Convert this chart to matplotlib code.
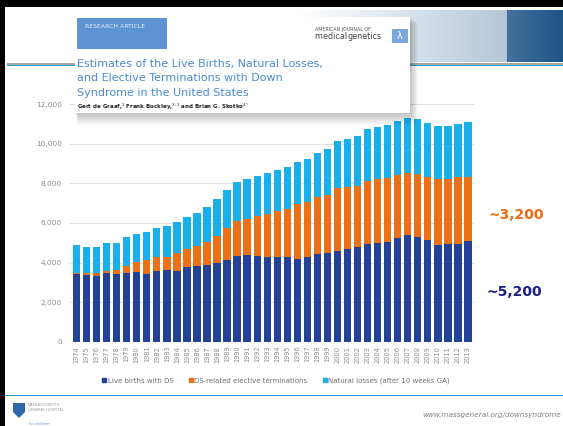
import numpy as np
import matplotlib
matplotlib.use("Agg")
import matplotlib.pyplot as plt
from matplotlib.patches import Rectangle, Polygon
from matplotlib.lines import Line2D
from matplotlib.colors import LinearSegmentedColormap

# Down syndrome pregnancies by outcome, US, 1974-2013
years = [str(y) for y in range(1974, 2014)]
live_births = [3400, 3350, 3300, 3450, 3400, 3450, 3500, 3400, 3550, 3620,
               3570, 3790, 3840, 3870, 3990, 4130, 4340, 4380, 4350, 4300,
               4300, 4300, 4180, 4300, 4410, 4460, 4580, 4680, 4800, 4920,
               4970, 5030, 5250, 5390, 5300, 5140, 4880, 4930, 4930, 5100]
terminations = [60, 100, 150, 120, 220, 390, 510, 730, 710, 670,
                890, 890, 1000, 1180, 1360, 1630, 1750, 1820, 2000, 2150,
                2320, 2400, 2760, 2770, 2880, 2950, 3170, 3120, 3060, 3210,
                3250, 3250, 3170, 3110, 3150, 3160, 3340, 3270, 3370, 3230]
natural_losses = [1440, 1350, 1350, 1400, 1350, 1430, 1410, 1400, 1500, 1550,
                  1570, 1630, 1660, 1770, 1840, 1900, 1990, 2020, 2035, 2055,
                  2055, 2105, 2120, 2160, 2250, 2310, 2390, 2440, 2540, 2595,
                  2640, 2660, 2740, 2780, 2780, 2760, 2690, 2710, 2690, 2750]
series_labels = ["Live births with DS", "DS-related elective terminations",
                 "Natural losses (after 10 weeks GA)"]
y_ticks = [0, 2000, 4000, 6000, 8000, 10000, 12000]
callouts = ["~3,200", "~5,200"]

NAVY = "#234196"
ORANGE = "#ec7016"
SKY = "#19afeb"
GRID = "#dcdcdc"
TICK = "#8c8c8c"

W, H = 563, 426
fig = plt.figure(figsize=(W / 100, H / 100), dpi=100)
fig.patch.set_facecolor("white")

# slide background, drawn in pixel coordinates
bg = fig.add_axes([0, 0, 1, 1], zorder=0)
bg.set_xlim(0, W)
bg.set_ylim(H, 0)
bg.axis("off")

bg.add_patch(Rectangle((0, 0), W, 7, color="black", lw=0))
bg.add_patch(Rectangle((0, 0), 5, H, color="black", lw=0))

light = LinearSegmentedColormap.from_list("light", ["#ffffff", "#b4c7d8"])
dark = LinearSegmentedColormap.from_list("dark", ["#43719c", "#1d5486"])
ramp = np.linspace(0, 1, 256).reshape(1, -1)
bg.imshow(ramp, cmap=light, extent=(300, 507, 62, 10), aspect="auto", zorder=1)
bg.imshow(ramp, cmap=dark, extent=(507, W, 62, 10), aspect="auto", zorder=1)
bg.set_xlim(0, W)
bg.set_ylim(H, 0)

bg.add_patch(Rectangle((7, 62.5), W - 7, 2, color="#a6a6a6", lw=0, zorder=2))
bg.add_patch(Rectangle((7, 64.8), W - 7, 1.6, color="#1a9fd0", lw=0, zorder=2))
bg.add_patch(Rectangle((5, 394.5), W - 5, 1.6, color="#1a9fd0", lw=0, zorder=2))

bg.text(488, 215, callouts[0], color="#f26a10", fontsize=10, fontweight="bold",
        ha="left", va="center")
bg.text(487, 292, callouts[1], color="#1b1f8a", fontsize=10, fontweight="bold",
        ha="left", va="center")

bg.text(561, 415, "www.massgeneral.org/downsyndrome", color="#808080",
        fontsize=5.2, style="italic", ha="right", va="center")

# hospital logo
bg.add_patch(Polygon([(13, 403), (25, 403), (25, 412), (19, 418), (13, 412)],
                     closed=True, color="#2f6aa6", lw=0))
bg.text(28, 405.5, "MASSACHUSETTS", color="#9a9a9a", fontsize=2.6, va="center")
bg.text(28, 410, "GENERAL HOSPITAL", color="#9a9a9a", fontsize=2.6, va="center")
bg.text(29, 424, "for children", color="#6b8fbf", fontsize=2.6, va="center")

# stacked bar chart
ax = fig.add_axes([70 / W, (H - 341.7) / H, 404 / W, 237.6 / H], zorder=1)
ax.set_facecolor("none")
x = np.arange(len(years))
live = np.array(live_births)
term = np.array(terminations)
nat = np.array(natural_losses)
ax.bar(x, live, width=0.73, color=NAVY, lw=0, zorder=2)
ax.bar(x, term, width=0.73, bottom=live, color=ORANGE, lw=0, zorder=2)
ax.bar(x, nat, width=0.73, bottom=live + term, color=SKY, lw=0, zorder=2)

ax.set_xlim(-0.65, 39.6)
ax.set_ylim(0, 12000)
ax.set_yticks(y_ticks)
ax.set_yticklabels([f"{v:,}" for v in y_ticks])
ax.set_xticks(x)
ax.set_xticklabels(years, rotation=90)
ax.yaxis.grid(True, color=GRID, lw=0.7, zorder=0)
ax.set_axisbelow(True)
for s in ax.spines.values():
    s.set_visible(False)
ax.tick_params(axis="y", length=0, pad=5.8, labelsize=5.3, labelcolor=TICK)
ax.tick_params(axis="x", length=0, pad=3, labelsize=4.8, labelcolor=TICK)

handles = [Line2D([], [], marker="s", ls="none", markersize=2.6, color=c)
           for c in (NAVY, ORANGE, SKY)]
fig.legend(handles, series_labels, loc="center", ncol=3,
           bbox_to_anchor=(276 / W, 1 - 381 / H), frameon=False, fontsize=5,
           labelcolor="#707070", handlelength=0.6, handletextpad=0.2,
           columnspacing=2.2)

# article header card laid over the chart
top = fig.add_axes([0, 0, 1, 1], zorder=3)
top.set_xlim(0, W)
top.set_ylim(H, 0)
top.axis("off")
top.patch.set_alpha(0)

for i in range(10, 0, -1):
    top.add_patch(Rectangle((75 + i * 0.3, 17 + i * 0.6), 335 + i * 0.5, 96 + i * 0.6,
                            color="black", alpha=0.025, lw=0))
top.add_patch(Rectangle((75, 17), 335, 96, color="white", lw=0))
top.add_patch(Rectangle((77, 17.5), 90, 31.5, color="#5e93d3", lw=0))
top.text(85, 27, "RESEARCH ARTICLE", color="#e4eefa", fontsize=4.4,
         ha="left", va="center")

top.text(315, 29, "AMERICAN JOURNAL OF", color="#555555", fontsize=3.4,
         ha="left", va="center")
top.text(315, 36.5, "medical ", color="#444444", fontsize=5.8,
         ha="left", va="center")
top.text(348, 36.5, "genetics", color="#444444", fontsize=5.8,
         ha="left", va="center")
top.add_patch(Rectangle((392, 29), 16, 14, color="#79a8dc", lw=0))
top.text(400, 36, "λ", color="white", fontsize=7, ha="center", va="center")

title_lines = ["Estimates of the Live Births, Natural Losses,",
               "and Elective Terminations with Down",
               "Syndrome in the United States"]
for k, line in enumerate(title_lines):
    top.text(77, 64 + k * 14.3, line, color="#4a8bd0", fontsize=8,
             ha="left", va="center")
top.text(77, 107, "Gert de Graaf,$^1$ Frank Buckley,$^{2,3}$ and Brian G. Skotko$^{4*}$",
         color="#222222", fontsize=4, fontweight="bold", ha="left", va="center")

fig.savefig("out.png", dpi=100)
